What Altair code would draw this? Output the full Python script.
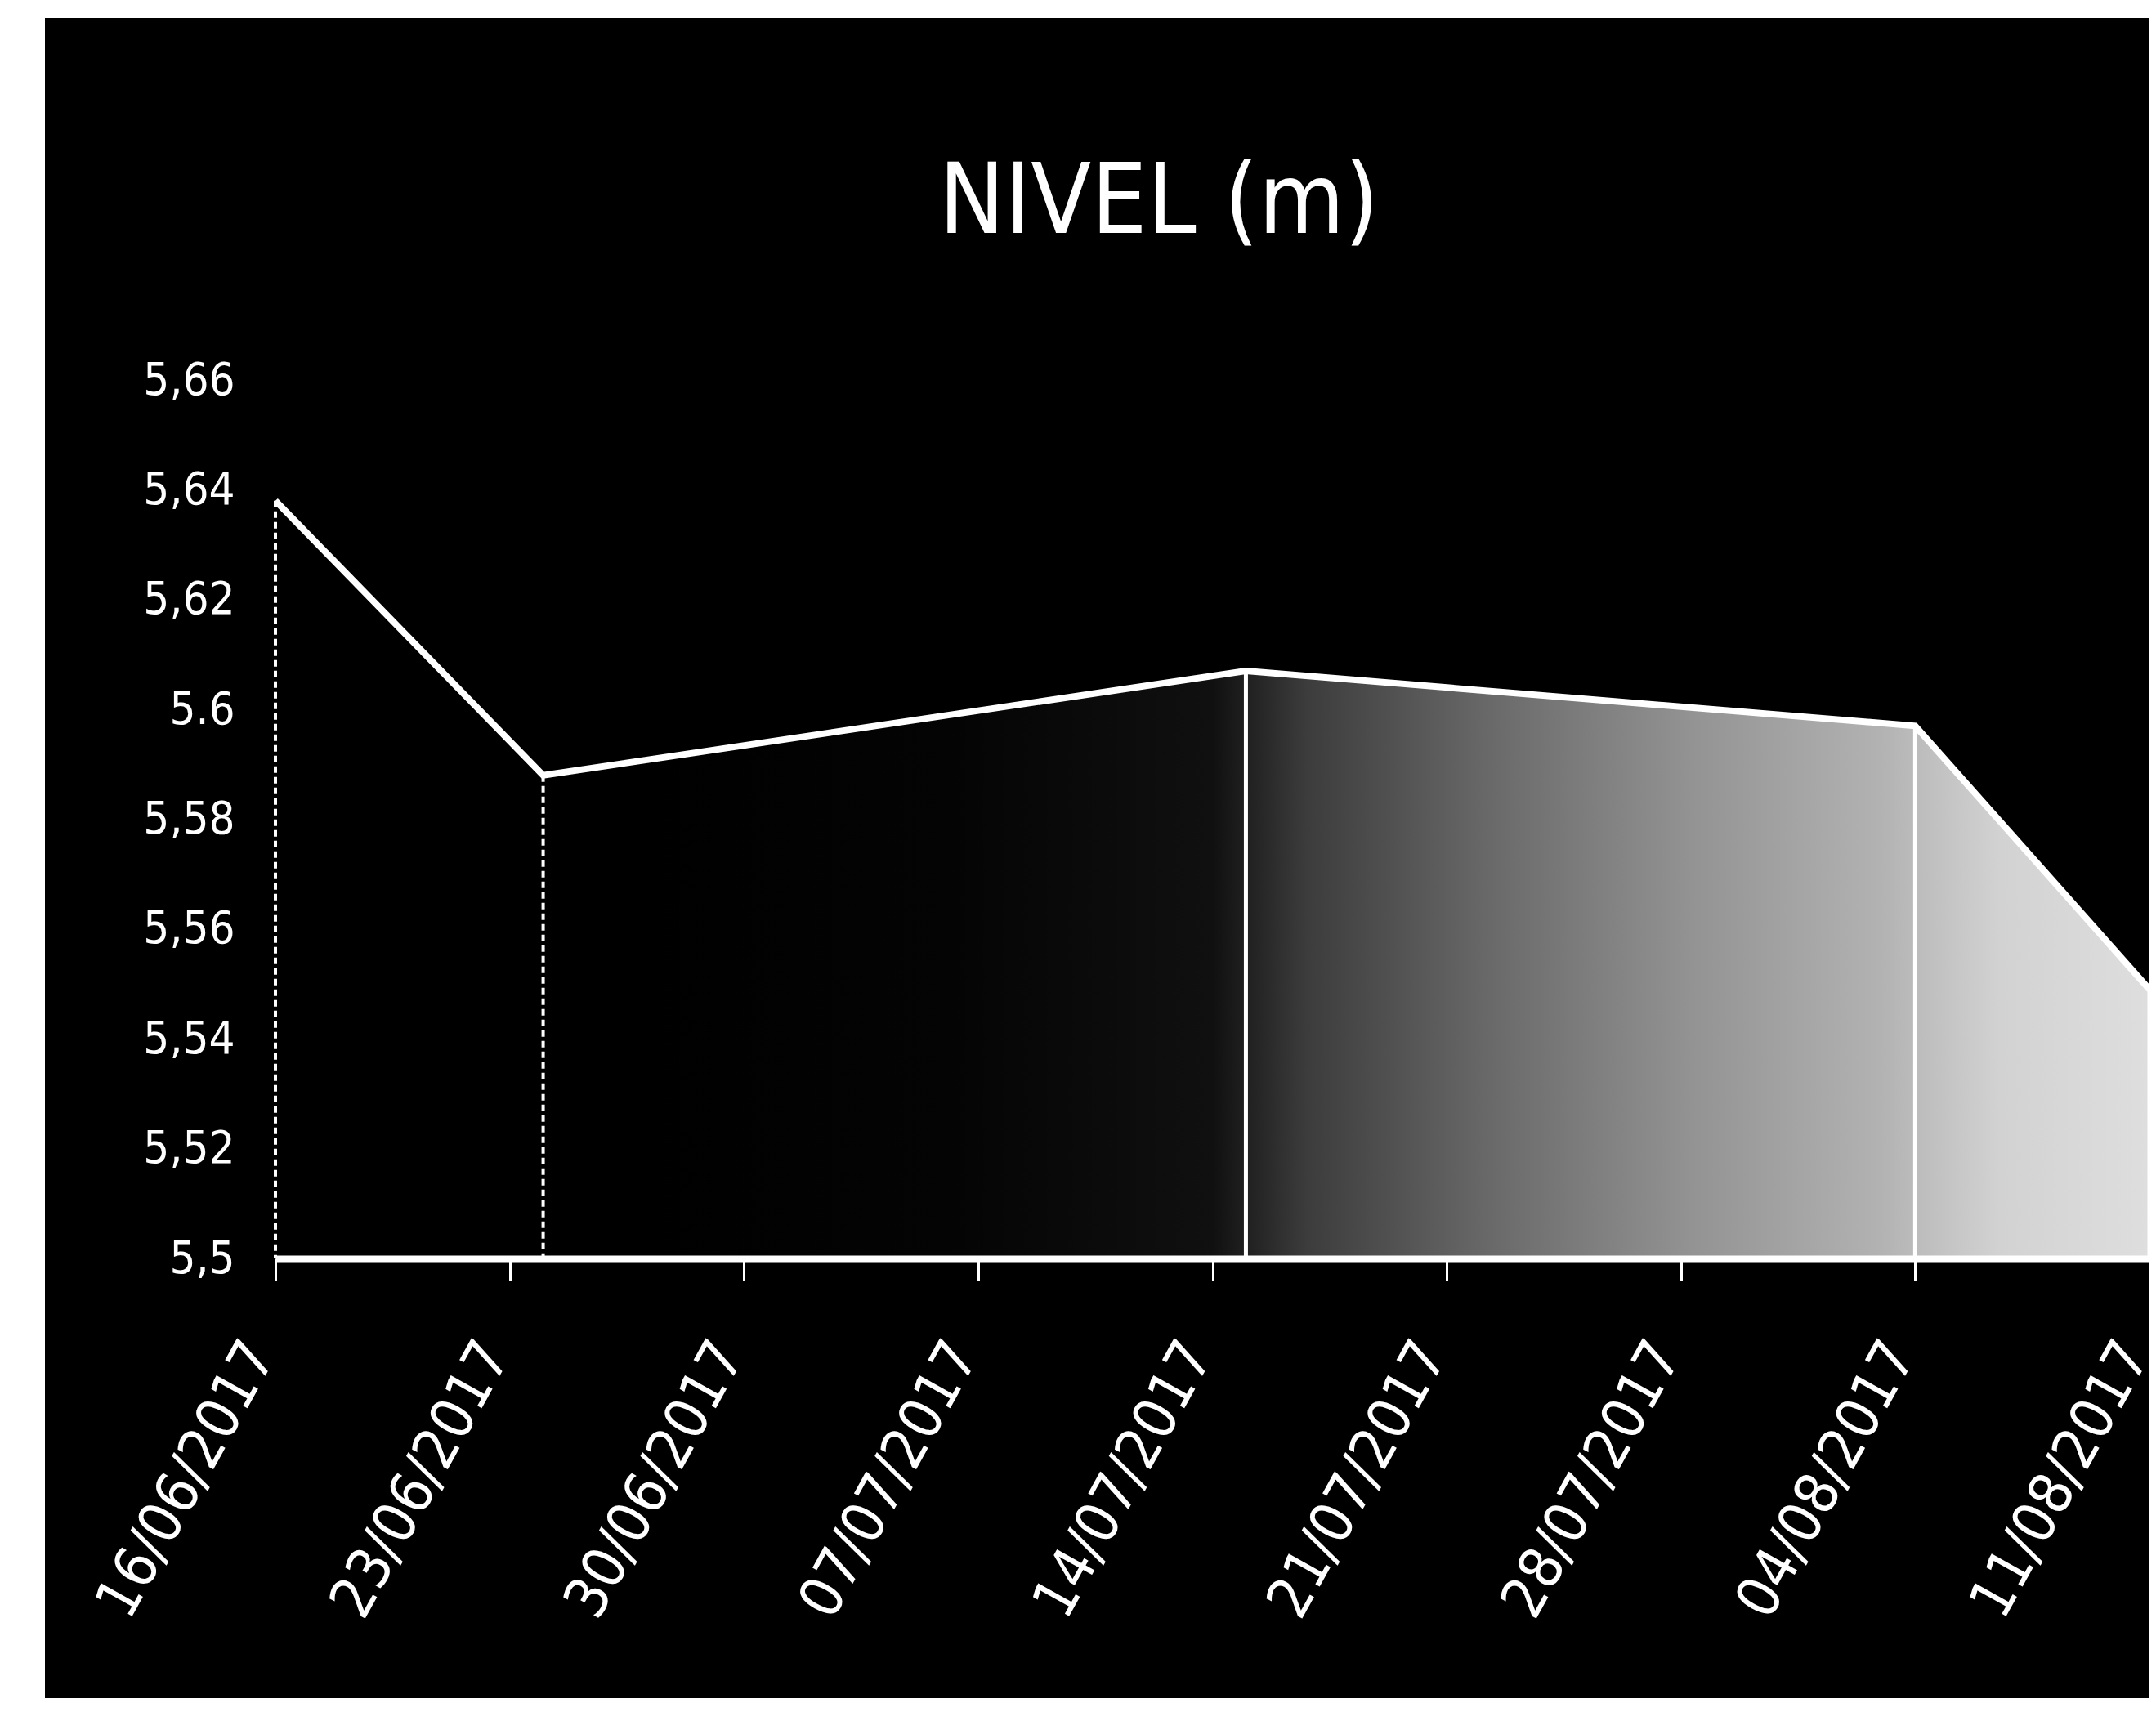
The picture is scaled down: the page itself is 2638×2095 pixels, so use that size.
import altair as alt
import pandas as pd

# ---- data ----
FECHAS = ["2017-06-16", "2017-06-24", "2017-07-15", "2017-08-04", "2017-08-11"]
NIVEL = [5.638, 5.588, 5.607, 5.597, 5.549]

TICKS_X = ["2017-06-16", "2017-06-23", "2017-06-30", "2017-07-07", "2017-07-14",
           "2017-07-21", "2017-07-28", "2017-08-04", "2017-08-11"]
TICKS_Y = [5.50, 5.52, 5.54, 5.56, 5.58, 5.60, 5.62, 5.64, 5.66]
LABELS_Y = ["5,5", "5,52", "5,54", "5,56", "5,58", "5.6", "5,62", "5,64", "5,66"]
TITLE = "NIVEL (m)"

# ---- layout ----
W, H = 2293, 1075
FONT = "DejaVu Sans Condensed, Liberation Sans Narrow, sans-serif"


def ms(d):
    return int(pd.Timestamp(d, tz="UTC").value // 10**6)


df = pd.DataFrame({"fecha": [ms(d) for d in FECHAS], "nivel": NIVEL})
x_ticks = [ms(d) for d in TICKS_X]
y_label_expr = "[" + ",".join(f"'{s}'" for s in LABELS_Y) + "][round((datum.value-5.5)/0.02)]"

x_scale = alt.Scale(type="utc", domain=[x_ticks[0], x_ticks[-1]])
y_scale = alt.Scale(domain=[TICKS_Y[0], TICKS_Y[-1]], zero=False, nice=False)

x_axis = alt.Axis(
    values=x_ticks, labelExpr="utcFormat(datum.value, '%d/%m/%Y')", title=None,
    labelAngle=-61, labelFont=FONT, labelFontSize=72, labelColor="white",
    labelPadding=80, labelOffset=-18, tickSize=27, tickColor="white", tickWidth=3,
    domainColor="white", domainWidth=8, grid=False, zindex=1, labelOverlap=False,
    labelBound=False, labelFlush=False, labelLimit=2000,
)
y_axis = alt.Axis(
    values=TICKS_Y, labelExpr=y_label_expr, title=None, labelFont=FONT,
    labelFontSize=56, labelColor="white", labelPadding=50, ticks=False,
    domain=False, grid=False, zindex=1, labelOverlap=False, labelFlush=False,
)

X = alt.X("fecha:T", scale=x_scale, axis=x_axis)
Y = alt.Y("nivel:Q", scale=y_scale, axis=y_axis)

# black panel behind everything (white strip at left/top like the scan)
bg = alt.Chart(alt.Data(values=[{"a": 1}])).mark_rect(color="black").encode(
    x=alt.value(-282), x2=alt.value(W + 20), y=alt.value(-443), y2=alt.value(H + 700)
)

gradient = alt.LinearGradient(
    gradient="linear", x1=0, x2=1, y1=0, y2=0,
    stops=[
        alt.GradientStop(color="#000000", offset=0.0),
        alt.GradientStop(color="#000000", offset=0.20),
        alt.GradientStop(color="#040404", offset=0.36),
        alt.GradientStop(color="#101010", offset=0.50),
        alt.GradientStop(color="#3c3c3c", offset=0.55),
        alt.GradientStop(color="#6a6a6a", offset=0.65),
        alt.GradientStop(color="#939393", offset=0.756),
        alt.GradientStop(color="#b2b2b2", offset=0.856),
        alt.GradientStop(color="#d2d2d2", offset=0.92),
        alt.GradientStop(color="#dedede", offset=1.0),
    ],
)

base = alt.Chart(df)
area = base.mark_area(color=gradient, clip=True).encode(x=X, y=Y, y2=alt.datum(TICKS_Y[0]))

drop_dash = base.transform_filter("+toDate(datum.fecha) <= utc(2017, 5, 24)").mark_rule(
    color="white", strokeWidth=4, strokeDash=[8, 5]
).encode(x=X, y=Y, y2=alt.datum(TICKS_Y[0]))
drop_solid = base.transform_filter("+toDate(datum.fecha) > utc(2017, 5, 24)").mark_rule(
    color="white", strokeWidth=5
).encode(x=X, y=Y, y2=alt.datum(TICKS_Y[0]))

line = base.mark_line(color="white", strokeWidth=8, clip=True).encode(x=X, y=Y)

title = alt.Chart(alt.Data(values=[{"a": 1}])).mark_text(
    text=TITLE, font=FONT, fontSize=120, color="white", align="center",
    baseline="alphabetic",
).encode(x=alt.value(1081), y=alt.value(-180))

chart = alt.layer(bg, area, drop_dash, drop_solid, line, title).properties(
    width=W, height=H,
    autosize=alt.AutoSizeParams(type="none"),
    padding={"left": 329, "top": 457, "right": 0, "bottom": 538},
).configure(background="white").configure_view(strokeWidth=0)

chart.save("out.html", embed_options={"renderer": "svg", "actions": False})
